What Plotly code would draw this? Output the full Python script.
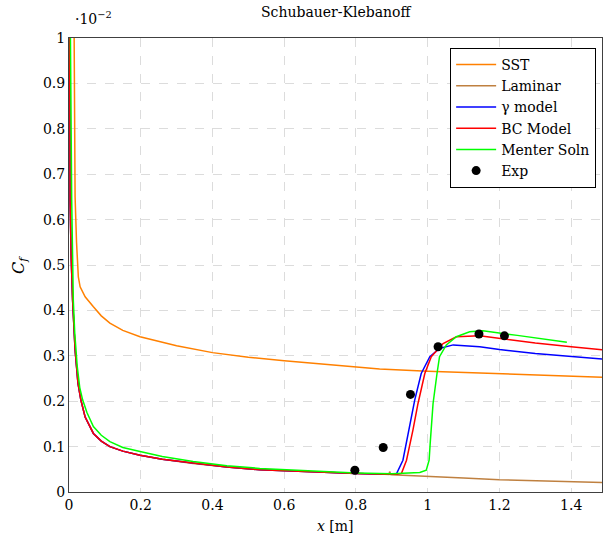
import plotly.graph_objects as go

# Values in units of 1e-2 (as shown on the axis)
sst_x = [0.014, 0.015, 0.017, 0.021, 0.026, 0.031, 0.045, 0.068, 0.09, 0.114, 0.15, 0.198,
         0.3, 0.4, 0.5, 0.6, 0.7, 0.8, 0.866, 1.0, 1.2, 1.4, 1.487]
sst_y = [1.05, 0.9, 0.65, 0.55, 0.474, 0.452, 0.43, 0.408, 0.388, 0.372, 0.356, 0.342,
         0.322, 0.307, 0.297, 0.289, 0.282, 0.276, 0.271, 0.266, 0.260, 0.255, 0.253]

lam_x = [0.0015, 0.003, 0.006, 0.010, 0.017, 0.025, 0.033, 0.045, 0.068, 0.09, 0.114, 0.15,
         0.198, 0.26, 0.346, 0.44, 0.532, 0.65, 0.8, 0.88, 0.892, 0.894, 0.897, 0.9, 1.0,
         1.1, 1.2, 1.3, 1.4, 1.487]
lam_y = [1.1, 0.643, 0.52, 0.423, 0.313, 0.24, 0.203, 0.165, 0.129, 0.112, 0.10, 0.09,
         0.081, 0.072, 0.063, 0.055, 0.049, 0.045, 0.041, 0.039, 0.0385, 0.045, 0.0385, 0.038, 0.035,
         0.031, 0.027, 0.025, 0.023, 0.021]

gam_x = [0.0015, 0.003, 0.006, 0.010, 0.017, 0.025, 0.033, 0.045, 0.068, 0.09, 0.114, 0.15,
         0.198, 0.26, 0.346, 0.44, 0.532, 0.65, 0.8, 0.88, 0.913, 0.931, 0.950, 0.964, 0.982,
         1.006, 1.033, 1.071, 1.145, 1.2, 1.3, 1.4, 1.487]
gam_y = [1.1, 0.643, 0.52, 0.423, 0.313, 0.24, 0.203, 0.165, 0.129, 0.112, 0.10, 0.09,
         0.081, 0.072, 0.064, 0.055, 0.049, 0.045, 0.041, 0.039, 0.040, 0.070, 0.144, 0.203, 0.261,
         0.298, 0.316, 0.324, 0.320, 0.314, 0.305, 0.298, 0.293]

bc_x = [0.0015, 0.003, 0.006, 0.010, 0.017, 0.025, 0.033, 0.045, 0.068, 0.09, 0.114, 0.15,
        0.198, 0.26, 0.346, 0.44, 0.532, 0.65, 0.8, 0.88, 0.915, 0.927, 0.941, 0.959, 0.973,
        0.992, 1.010, 1.043, 1.080, 1.145, 1.2, 1.3, 1.4, 1.487]
bc_y = [1.1, 0.643, 0.52, 0.423, 0.313, 0.24, 0.203, 0.165, 0.129, 0.112, 0.10, 0.09,
        0.081, 0.072, 0.064, 0.055, 0.049, 0.045, 0.041, 0.039, 0.039, 0.041, 0.070, 0.137, 0.195,
        0.261, 0.298, 0.327, 0.342, 0.344, 0.338, 0.328, 0.320, 0.313]

men_x = [0.003, 0.0075, 0.012, 0.016, 0.023, 0.030, 0.038, 0.05, 0.068, 0.09, 0.114, 0.15,
         0.198, 0.26, 0.346, 0.44, 0.532, 0.65, 0.8, 0.9, 0.95, 0.978, 0.996, 1.004, 1.007,
         1.015, 1.026, 1.033, 1.052, 1.08, 1.117, 1.154, 1.25, 1.388]
men_y = [1.1, 0.643, 0.423, 0.35, 0.276, 0.23, 0.203, 0.175, 0.144, 0.125, 0.111, 0.098,
         0.089, 0.078, 0.067, 0.058, 0.052, 0.047, 0.042, 0.040, 0.041, 0.043, 0.048, 0.070, 0.107,
         0.195, 0.261, 0.298, 0.324, 0.342, 0.353, 0.355, 0.345, 0.330]

exp_x = [0.797, 0.876, 0.952, 1.029, 1.143, 1.214]
exp_y = [0.048, 0.098, 0.215, 0.320, 0.348, 0.344]

FONT = "DejaVu Serif"

fig = go.Figure()
fig.add_trace(go.Scatter(x=sst_x, y=sst_y, mode="lines", name="SST",
                         line=dict(color="#ff8000", width=1.5)))
fig.add_trace(go.Scatter(x=lam_x, y=lam_y, mode="lines", name="Laminar",
                         line=dict(color="#bf8040", width=1.5)))
fig.add_trace(go.Scatter(x=gam_x, y=gam_y, mode="lines", name="γ model",
                         line=dict(color="#0000ff", width=1.5)))
fig.add_trace(go.Scatter(x=bc_x, y=bc_y, mode="lines", name="BC Model",
                         line=dict(color="#ff0000", width=1.5)))
fig.add_trace(go.Scatter(x=men_x, y=men_y, mode="lines", name="Menter Soln",
                         line=dict(color="#00ff00", width=1.5)))
fig.add_trace(go.Scatter(x=exp_x, y=exp_y, mode="markers", name="Exp",
                         marker=dict(color="black", size=9)))

axis_common = dict(showline=True, mirror=True, linecolor="#404040", linewidth=1,
                   showgrid=True, gridcolor="#dcdcdc", griddash="dash", gridwidth=1,
                   zeroline=False, ticks="", tickfont=dict(family=FONT, size=14, color="black"))

fig.update_xaxes(range=[0, 1.486], tickvals=[0, 0.2, 0.4, 0.6, 0.8, 1, 1.2, 1.4],
                 ticktext=["0", "0.2", "0.4", "0.6", "0.8", "1", "1.2", "1.4"], **axis_common)
fig.update_yaxes(range=[0, 1], tickvals=[0, 0.1, 0.2, 0.3, 0.4, 0.5, 0.6, 0.7, 0.8, 0.9, 1],
                 ticktext=["0", "0.1", "0.2", "0.3", "0.4", "0.5", "0.6", "0.7", "0.8", "0.9", "1"],
                 **axis_common)

fig.update_layout(
    width=603, height=545,
    margin=dict(l=69, r=1, t=38, b=53, autoexpand=False),
    plot_bgcolor="white", paper_bgcolor="white",
    font=dict(family=FONT, size=14, color="black"),
    showlegend=True,
    legend=dict(x=0.989, y=0.978, xanchor="right", yanchor="top",
                bordercolor="black", borderwidth=1, bgcolor="white",
                font=dict(family=FONT, size=14), tracegroupgap=0, itemwidth=40),
    annotations=[
        dict(text="Schubauer-Klebanoff", xref="paper", yref="paper", x=0.5, y=1,
             yshift=26, xanchor="center", yanchor="middle", showarrow=False,
             font=dict(family=FONT, size=14)),
        dict(text="·10<sup>−2</sup>", xref="paper", yref="paper", x=0, y=1,
             xshift=4, yshift=20, xanchor="left", yanchor="middle", showarrow=False,
             font=dict(family=FONT, size=14)),
        dict(text="<i>C</i><sub><i>f</i></sub>", xref="paper", yref="paper", x=0, y=0.5,
             xshift=-50, xanchor="center", yanchor="middle", textangle=-90, showarrow=False,
             font=dict(family=FONT, size=16)),
        dict(text="<i>x</i> [m]", xref="paper", yref="paper", x=0.5, y=0,
             yshift=-34, xanchor="center", yanchor="middle", showarrow=False,
             font=dict(family=FONT, size=14)),
    ],
)

# Remove the browser's default 8 px body margin so the figure fills the window exactly.
fig.write_html("out.html", config={"displayModeBar": False},
               post_script="document.body.style.margin='0';document.body.style.overflow='hidden';")
